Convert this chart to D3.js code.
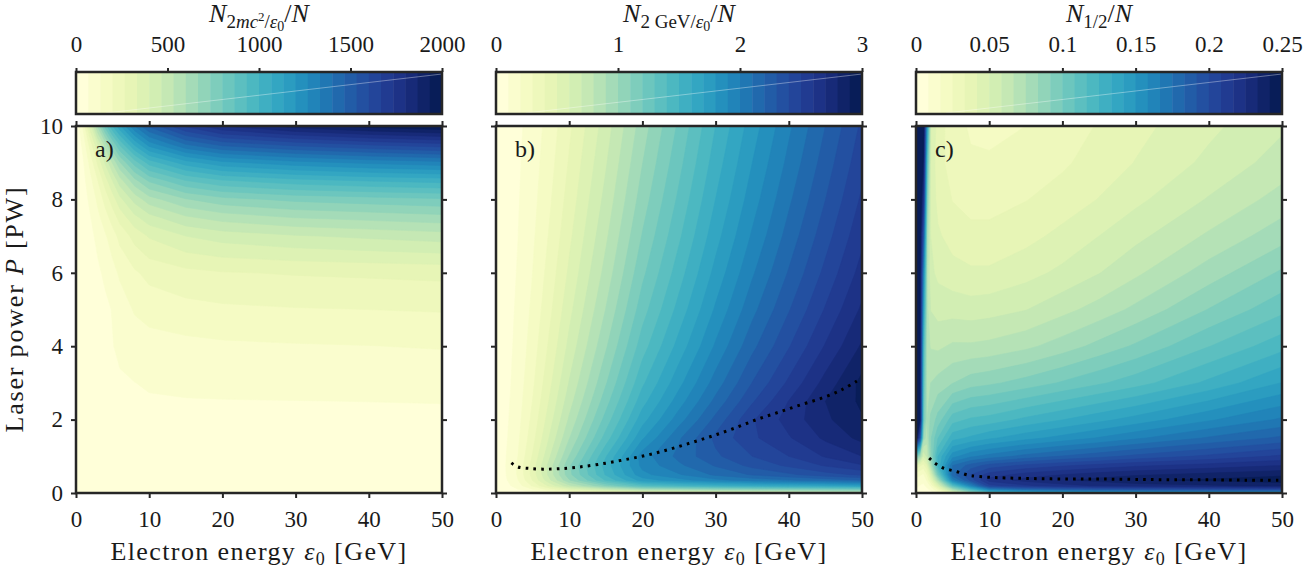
<!DOCTYPE html>
<html>
<head>
<meta charset="utf-8">
<script src="https://cdn.jsdelivr.net/npm/d3@7"></script>
<style>
  body { margin: 0; background: #fff; }
  svg text { font-family: "Liberation Serif", "Times New Roman", serif; fill: #1a1a1a; white-space: pre; }
</style>
</head>
<body>
<svg id="chart" width="1305" height="569"></svg>
<script>
// ---- data ----
const energyTicks = [0, 10, 20, 30, 40, 50];
const powerTicks = [0, 2, 4, 6, 8, 10];

// a) N_{2mc^2/eps0}/N  (rows = power, columns = energy)
const aEnergy = [0, 1, 2, 3, 4, 5, 6, 8, 10, 15, 20, 30, 40, 50];
const aPower = [0, 1, 2, 2.5, 3, 4, 5, 6, 7, 7.5, 8, 8.5, 9, 9.5, 10];
const aRows = [
  [0, 5, 10, 15, 18, 20, 22, 24, 25, 26, 27, 28, 29, 30],
  [0, 6, 12, 18, 24, 28, 32, 35, 37, 38, 39, 40, 40, 40],
  [0, 8, 16, 24, 32, 40, 46, 50, 52, 54, 55, 56, 57, 58],
  [0, 9, 18, 27, 36, 46, 54, 60, 62, 64, 65, 66, 67, 68],
  [0, 10, 20, 30, 40, 50, 58, 66, 72, 78, 80, 82, 84, 85],
  [0, 12, 24, 36, 50, 64, 80, 95, 105, 115, 122, 128, 132, 138],
  [0, 14, 28, 42, 52, 70, 95, 140, 160, 178, 188, 196, 200, 205],
  [0, 16, 34, 55, 80, 110, 145, 190, 220, 248, 262, 272, 278, 285],
  [0, 22, 50, 85, 125, 170, 220, 290, 340, 400, 430, 460, 480, 500],
  [0, 28, 65, 115, 170, 230, 290, 380, 440, 520, 560, 600, 620, 640],
  [0, 35, 85, 150, 225, 300, 380, 490, 570, 660, 710, 750, 770, 790],
  [0, 45, 115, 200, 300, 400, 500, 640, 740, 860, 920, 970, 1000, 1020],
  [0, 60, 160, 280, 410, 540, 660, 830, 960, 1100, 1180, 1240, 1280, 1310],
  [0, 90, 240, 400, 570, 740, 880, 1080, 1230, 1400, 1490, 1560, 1610, 1650],
  [0, 150, 380, 620, 830, 1000, 1120, 1330, 1480, 1680, 1800, 1900, 1960, 2000]
];
const aBarTicks = [0, 500, 1000, 1500, 2000];
const aBarLabels = ["0", "500", "1000", "1500", "2000"];

// b) N_{2GeV/eps0}/N  (columns = energy, each over power)
const bEnergy = [0, 1, 2, 3, 5, 7.5, 10, 15, 20, 25, 30, 35, 40, 45, 50];
const bPower = [0, 0.1, 0.2, 0.35, 0.5, 0.75, 1, 1.5, 2, 2.5, 3, 4, 5, 6, 7, 8, 9, 10];
const bColumns = [
  [0, 0.005, 0.01, 0.01, 0.01, 0.01, 0.01, 0.01, 0.01, 0.01, 0.01, 0.01, 0.01, 0.01, 0.01, 0.01, 0.01, 0.01],
  [0, 0.035, 0.056, 0.07, 0.077, 0.08, 0.078, 0.072, 0.068, 0.064, 0.061, 0.056, 0.052, 0.049, 0.046, 0.044, 0.042, 0.04],
  [0.01, 0.063, 0.098, 0.126, 0.136, 0.14, 0.133, 0.12, 0.111, 0.104, 0.098, 0.089, 0.082, 0.076, 0.071, 0.067, 0.063, 0.06],
  [0.02, 0.099, 0.154, 0.198, 0.213, 0.216, 0.201, 0.18, 0.165, 0.153, 0.143, 0.128, 0.117, 0.107, 0.099, 0.092, 0.086, 0.08],
  [0.06, 0.2, 0.315, 0.405, 0.437, 0.442, 0.408, 0.361, 0.328, 0.302, 0.28, 0.247, 0.221, 0.2, 0.182, 0.166, 0.152, 0.14],
  [0.1, 0.351, 0.546, 0.702, 0.757, 0.766, 0.709, 0.628, 0.571, 0.526, 0.49, 0.433, 0.388, 0.352, 0.321, 0.295, 0.271, 0.25],
  [0.14, 0.495, 0.77, 0.99, 1.067, 1.081, 1.004, 0.894, 0.816, 0.755, 0.706, 0.628, 0.568, 0.518, 0.476, 0.44, 0.409, 0.38],
  [0.2, 0.7, 1.1, 1.41, 1.51, 1.545, 1.491, 1.343, 1.238, 1.157, 1.089, 0.985, 0.903, 0.836, 0.781, 0.732, 0.689, 0.65],
  [0.26, 0.88, 1.37, 1.75, 1.87, 1.93, 1.95, 1.785, 1.658, 1.56, 1.48, 1.353, 1.255, 1.175, 1.107, 1.048, 0.997, 0.95],
  [0.31, 0.94, 1.47, 1.86, 1.99, 2.08, 2.13, 2.085, 1.954, 1.852, 1.769, 1.638, 1.536, 1.453, 1.382, 1.322, 1.268, 1.22],
  [0.37, 1.01, 1.54, 1.97, 2.12, 2.21, 2.28, 2.325, 2.229, 2.128, 2.045, 1.915, 1.815, 1.732, 1.661, 1.601, 1.548, 1.5],
  [0.44, 1.06, 1.59, 2.04, 2.21, 2.33, 2.4, 2.48, 2.488, 2.386, 2.302, 2.171, 2.068, 1.985, 1.913, 1.852, 1.799, 1.75],
  [0.53, 1.09, 1.63, 2.09, 2.28, 2.42, 2.5, 2.59, 2.64, 2.603, 2.52, 2.392, 2.292, 2.209, 2.14, 2.081, 2.027, 1.98],
  [0.63, 1.13, 1.66, 2.14, 2.36, 2.51, 2.61, 2.72, 2.78, 2.8, 2.737, 2.609, 2.509, 2.427, 2.359, 2.299, 2.247, 2.2],
  [0.73, 1.17, 1.71, 2.2, 2.42, 2.59, 2.7, 2.83, 2.89, 2.92, 2.93, 2.814, 2.718, 2.639, 2.574, 2.517, 2.466, 2.42]
];
const bBarTicks = [0, 1, 2, 3];
const bBarLabels = ["0", "1", "2", "3"];
const bRidgeEnergy = [2.1, 3, 4.5, 6.4, 8.5, 11, 14, 17.4, 20.6, 23.5, 26.5, 29.5, 32.5, 35.6, 38.6, 41.6, 44.7, 47.3, 49.3];
const bRidgePower = [0.82, 0.71, 0.67, 0.65, 0.66, 0.7, 0.78, 0.9, 1.03, 1.18, 1.36, 1.55, 1.76, 2.0, 2.2, 2.4, 2.6, 2.82, 3.05];

// c) N_{1/2}/N  (columns = energy, each over power)
const cEnergy = [0, 0.5, 1, 1.5, 2, 3, 5, 7.5, 10, 15, 20, 25, 30, 40, 50];
const cPower = [0, 0.1, 0.2, 0.35, 0.5, 0.75, 1, 1.5, 2, 3, 4, 5, 6, 7, 8, 9, 10];
const cColumns = [
  [0.005, 0.008, 0.01, 0.015, 0.02, 0.04, 0.1, 0.25, 0.26, 0.26, 0.26, 0.26, 0.26, 0.26, 0.26, 0.26, 0.26],
  [0.004, 0.006, 0.008, 0.012, 0.018, 0.035, 0.08, 0.2, 0.245, 0.245, 0.248, 0.25, 0.25, 0.255, 0.26, 0.26, 0.26],
  [0.003, 0.005, 0.007, 0.01, 0.015, 0.03, 0.05, 0.08, 0.1, 0.11, 0.12, 0.14, 0.16, 0.19, 0.22, 0.24, 0.25],
  [0.004, 0.007, 0.01, 0.018, 0.025, 0.04, 0.06, 0.07, 0.075, 0.07, 0.07, 0.07, 0.07, 0.075, 0.09, 0.11, 0.14],
  [0.005, 0.01, 0.018, 0.032, 0.045, 0.07, 0.085, 0.09, 0.085, 0.075, 0.066, 0.058, 0.052, 0.05, 0.048, 0.048, 0.05],
  [0.0125, 0.025, 0.045, 0.075, 0.1, 0.125, 0.125, 0.108, 0.095, 0.078, 0.065, 0.055, 0.048, 0.043, 0.039, 0.037, 0.038],
  [0.0375, 0.075, 0.112, 0.162, 0.18, 0.175, 0.155, 0.13, 0.113, 0.083, 0.068, 0.055, 0.045, 0.038, 0.033, 0.029, 0.028],
  [0.075, 0.12, 0.162, 0.195, 0.2, 0.187, 0.165, 0.135, 0.118, 0.088, 0.068, 0.054, 0.043, 0.036, 0.03, 0.026, 0.024],
  [0.1, 0.162, 0.205, 0.22, 0.212, 0.195, 0.17, 0.14, 0.12, 0.09, 0.069, 0.055, 0.043, 0.036, 0.03, 0.026, 0.023],
  [0.115, 0.178, 0.215, 0.228, 0.22, 0.202, 0.178, 0.147, 0.127, 0.095, 0.073, 0.058, 0.047, 0.039, 0.033, 0.028, 0.025],
  [0.125, 0.185, 0.222, 0.232, 0.225, 0.207, 0.184, 0.153, 0.133, 0.101, 0.079, 0.064, 0.052, 0.044, 0.037, 0.032, 0.029],
  [0.13, 0.19, 0.226, 0.236, 0.229, 0.211, 0.189, 0.159, 0.139, 0.107, 0.086, 0.07, 0.058, 0.05, 0.042, 0.037, 0.034],
  [0.134, 0.193, 0.229, 0.24, 0.232, 0.215, 0.194, 0.165, 0.145, 0.113, 0.093, 0.077, 0.065, 0.056, 0.048, 0.042, 0.039],
  [0.138, 0.197, 0.232, 0.243, 0.236, 0.22, 0.202, 0.176, 0.157, 0.127, 0.108, 0.092, 0.079, 0.068, 0.059, 0.052, 0.048],
  [0.14, 0.2, 0.236, 0.246, 0.24, 0.225, 0.21, 0.185, 0.168, 0.142, 0.122, 0.106, 0.093, 0.08, 0.07, 0.062, 0.057]
];
const cBarTicks = [0, 0.05, 0.1, 0.15, 0.2, 0.25];
const cBarLabels = ["0", "0.05", "0.1", "0.15", "0.2", "0.25"];
const cRidgeEnergy = [1.8, 2.6, 3.6, 4.6, 5.6, 6.7, 7.6, 9.9, 12.2, 16.7, 21.3, 25.3, 30, 35, 40, 45, 49.5];
const cRidgePower = [0.95, 0.81, 0.69, 0.63, 0.58, 0.51, 0.47, 0.43, 0.41, 0.39, 0.38, 0.38, 0.37, 0.36, 0.36, 0.35, 0.35];

// ---- helpers ----
function gridFromRows(rows) {
  return rows.flat();
}
function gridFromColumns(cols) {
  const nx = cols.length, out = [];
  cols.forEach((col, i) => col.forEach((v, j) => { out[i + j * nx] = v; }));
  return out;
}
// append a row of tspans: [text, italic, size, dy]
function richText(sel, parts) {
  parts.forEach(([t, it, size, dy]) => {
    sel.append('tspan').text(t)
      .attr('font-style', it ? 'italic' : 'normal')
      .attr('font-size', size)
      .attr('dy', dy || 0);
  });
  return sel;
}

const panels = [
  { energy: aEnergy, power: aPower, values: gridFromRows(aRows), max: 2000,
    barTicks: aBarTicks, barLabels: aBarLabels, tag: 'a)',
    title: [['N', 1, 26], ['2', 0, 19, 6], ['mc', 1, 19], ['2', 0, 13, -7], ['/', 0, 19, 7], ['ε', 1, 19], ['0', 0, 14, 3], ['/', 0, 26, -9], ['N', 1, 26]] },
  { energy: bEnergy, power: bPower, values: gridFromColumns(bColumns), max: 3,
    barTicks: bBarTicks, barLabels: bBarLabels, tag: 'b)',
    ridge: d3.zip(bRidgeEnergy, bRidgePower),
    title: [['N', 1, 26], ['2 GeV/', 0, 19, 6], ['ε', 1, 19], ['0', 0, 14, 3], ['/', 0, 26, -9], ['N', 1, 26]] },
  { energy: cEnergy, power: cPower, values: gridFromColumns(cColumns), max: 0.25,
    barTicks: cBarTicks, barLabels: cBarLabels, tag: 'c)',
    ridge: d3.zip(cRidgeEnergy, cRidgePower),
    title: [['N', 1, 26], ['1/2', 0, 19, 6], ['/', 0, 26, -6], ['N', 1, 26]] }
];

// ---- layout ----
const svg = d3.select('#chart');
const lefts = [76, 496, 916];
const plotW = 366, plotH = 367, plotTop = 126;
const barTop = 72, barH = 42;
const nLevels = 30;
const ink = '#262626';
const color = k => d3.interpolateYlGnBu(k / (nLevels - 1));

function styleAxis(g) {
  g.select('.domain').remove();
  g.selectAll('.tick line').attr('stroke', ink).attr('stroke-width', 2);
  g.selectAll('.tick text').attr('font-size', 23).attr('fill', '#1a1a1a')
    .style('font-family', '"Liberation Serif", serif');
}

panels.forEach((p, n) => {
  const left = lefts[n];
  const x = d3.scaleLinear().domain([0, 50]).range([left, left + plotW]);
  const y = d3.scaleLinear().domain([0, 10]).range([plotTop + plotH, plotTop]);

  // grid index -> data coordinate (d3.contours puts sample i at i + 0.5)
  const nx = p.energy.length, ny = p.power.length;
  const gx = d3.scaleLinear().domain(p.energy.map((_, i) => i + 0.5)).range(p.energy).clamp(true);
  const gy = d3.scaleLinear().domain(p.power.map((_, j) => j + 0.5)).range(p.power).clamp(true);
  const levels = d3.range(nLevels).map(k => k * p.max / nLevels);
  const bands = d3.contours().size([nx, ny]).thresholds(levels)(p.values);
  const proj = d3.geoTransform({ point(px, py) { this.stream.point(x(gx(px)), y(gy(py))); } });
  const path = d3.geoPath(proj);

  const clipId = 'clip' + n;
  svg.append('clipPath').attr('id', clipId).append('rect')
    .attr('x', left).attr('y', plotTop).attr('width', plotW).attr('height', plotH);
  const g = svg.append('g').attr('clip-path', `url(#${clipId})`);
  g.selectAll('path.band').data(bands).join('path')
    .attr('class', 'band')
    .attr('d', path)
    .attr('fill', (d, i) => color(i))
    .attr('stroke', (d, i) => color(i))
    .attr('stroke-width', 0.6);

  if (p.ridge) {
    g.append('path').datum(p.ridge)
      .attr('d', d3.line().x(d => x(d[0])).y(d => y(d[1])).curve(d3.curveCatmullRom))
      .attr('fill', 'none').attr('stroke', '#000').attr('stroke-width', 3)
      .attr('stroke-dasharray', '2.6 5.2');
  }

  svg.append('text').attr('x', left + 19).attr('y', 157).attr('font-size', 24).text(p.tag);

  // axes, ticks outward on all four sides
  svg.append('g').attr('transform', `translate(0,${plotTop + plotH})`)
    .call(d3.axisBottom(x).tickValues(energyTicks).tickSize(5).tickSizeOuter(0).tickPadding(13).tickFormat(d3.format('d')))
    .call(styleAxis);
  svg.append('g').attr('transform', `translate(0,${plotTop})`)
    .call(d3.axisTop(x).tickValues(energyTicks).tickSize(5).tickSizeOuter(0).tickFormat(''))
    .call(styleAxis);
  svg.append('g').attr('transform', `translate(${left},0)`)
    .call(d3.axisLeft(y).tickValues(powerTicks).tickSize(5).tickSizeOuter(0).tickPadding(8)
      .tickFormat(n === 0 ? d3.format('d') : ''))
    .call(styleAxis);
  svg.append('g').attr('transform', `translate(${left + plotW},0)`)
    .call(d3.axisRight(y).tickValues(powerTicks).tickSize(5).tickSizeOuter(0).tickFormat(''))
    .call(styleAxis);
  svg.append('rect').attr('x', left).attr('y', plotTop).attr('width', plotW).attr('height', plotH)
    .attr('fill', 'none').attr('stroke', ink).attr('stroke-width', 2.5);

  // x label
  richText(svg.append('text').attr('x', left + plotW / 2).attr('y', 560).attr('text-anchor', 'middle')
      .attr('letter-spacing', 1.4),
    [['Electron energy ', 0, 26], ['ε', 1, 26], ['0', 0, 18, 5], [' [GeV]', 0, 26, -5]]);

  // colorbar
  const cx = d3.scaleLinear().domain([0, p.max]).range([left, left + plotW]);
  svg.append('g').selectAll('rect').data(d3.range(nLevels)).join('rect')
    .attr('x', k => cx(k * p.max / nLevels))
    .attr('width', k => cx((k + 1) * p.max / nLevels) - cx(k * p.max / nLevels) + 0.5)
    .attr('y', barTop).attr('height', barH)
    .attr('fill', k => color(k));
  svg.append('line')
    .attr('x1', left + 30).attr('y1', barTop + barH - 1).attr('x2', left + plotW).attr('y2', barTop + 2)
    .attr('stroke', '#fff').attr('stroke-opacity', 0.45).attr('stroke-width', 0.8);
  svg.append('rect').attr('x', left).attr('y', barTop).attr('width', plotW).attr('height', barH)
    .attr('fill', 'none').attr('stroke', ink).attr('stroke-width', 2.5);
  svg.append('g').attr('transform', `translate(0,${barTop})`)
    .call(d3.axisTop(cx).tickValues(p.barTicks).tickSize(4).tickSizeOuter(0).tickPadding(16)
      .tickFormat((d, i) => p.barLabels[i]))
    .call(styleAxis);
  richText(svg.append('text').attr('x', left + plotW / 2).attr('y', 22).attr('text-anchor', 'middle'), p.title);
});

// y label
richText(svg.append('text').attr('transform', 'translate(23,309) rotate(-90)').attr('text-anchor', 'middle')
    .attr('letter-spacing', 1.8),
  [['Laser power ', 0, 26], ['P', 1, 26], [' [PW]', 0, 26]]);
</script>
</body>
</html>
